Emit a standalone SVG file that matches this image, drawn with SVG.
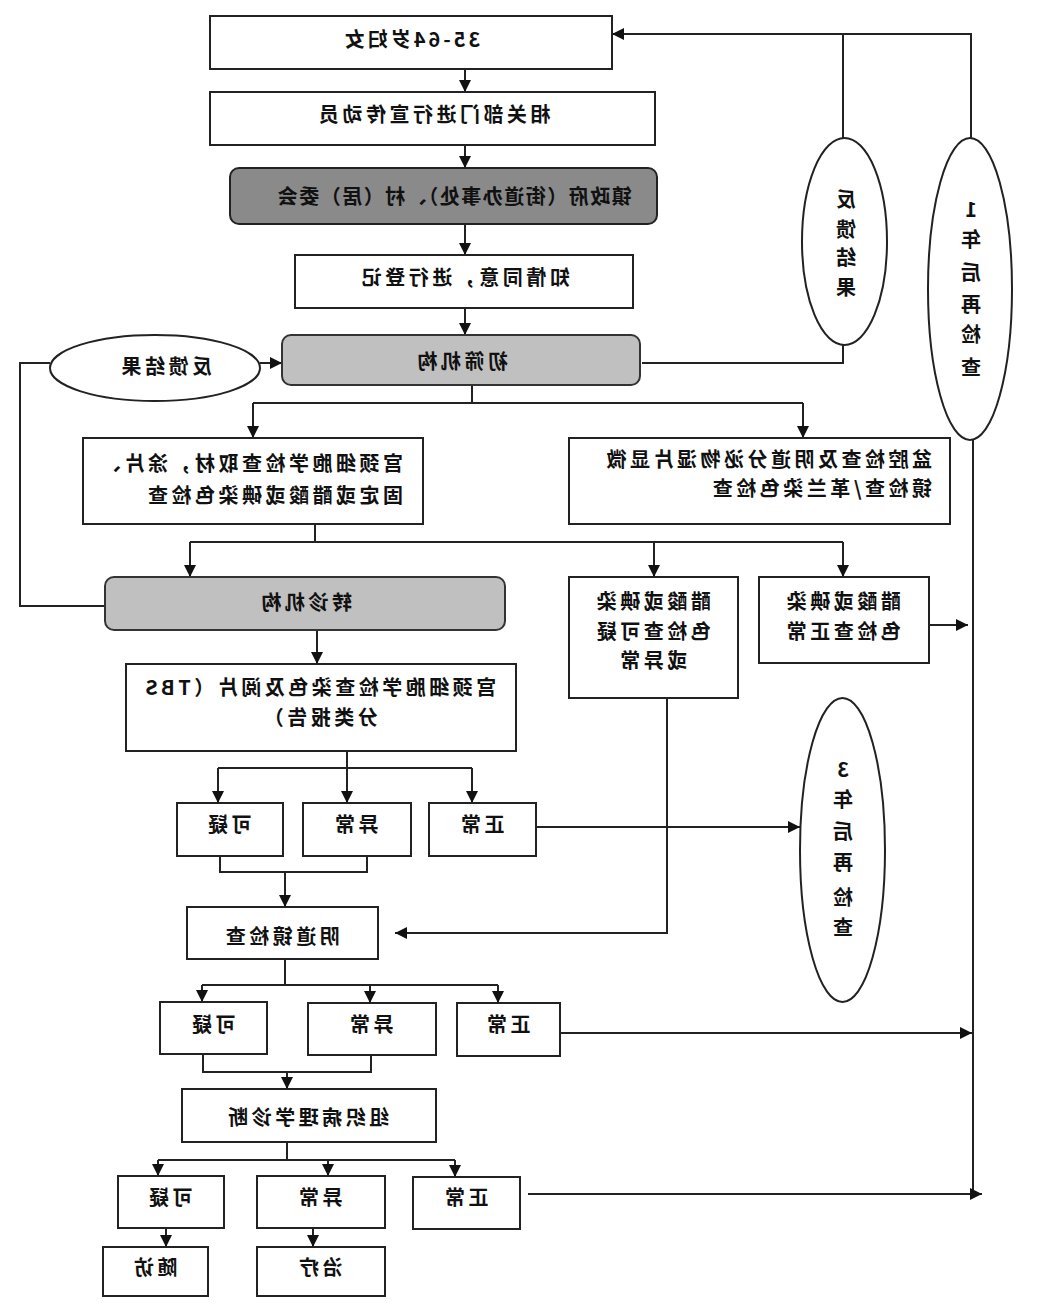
<svg xmlns="http://www.w3.org/2000/svg" width="1039" height="1311" viewBox="0 0 1039 1311">
<style>
.b{fill:#fff;stroke:#222;stroke-width:2}
.g1{fill:#8a8a8a;stroke:#222;stroke-width:2}
.g2{fill:#c0c0c0;stroke:#333;stroke-width:2}
.e{fill:#fff;stroke:#222;stroke-width:2}
.t{font-family:"Noto Sans CJK SC","Noto Sans",sans-serif;font-size:20px;font-weight:700;fill:#111;letter-spacing:3.5px}
.m{text-anchor:middle}
.c{fill:none;stroke:#222;stroke-width:2}
.a{fill:none;stroke:#222;stroke-width:2;marker-end:url(#ah)}
</style>
<defs>
<marker id="ah" viewBox="0 0 10 10" refX="10" refY="5" markerWidth="12" markerHeight="12" markerUnits="userSpaceOnUse" orient="auto"><path d="M0,0 L10,5 L0,10 z" fill="#111"/></marker>
</defs>
<rect width="1039" height="1311" fill="#fff"/>
<g transform="matrix(-1 0 0 1 1039 0)">
<g id="connectors">
<path class="a" d="M574,69 V92"/>
<path class="a" d="M574,145 V168"/>
<path class="a" d="M574,224 V255"/>
<path class="a" d="M574,308 V335"/>
<path class="a" d="M68,138 V34 H427"/>
<path class="c" d="M196,138 V34"/>
<path class="c" d="M397,363 H196 V345"/>
<path class="c" d="M66,440 V1196"/>
<path class="a" d="M110,625 H71"/>
<path class="a" d="M479,1033 H67"/>
<path class="a" d="M511,1194 H57"/>
<path class="a" d="M779,363 H757"/>
<path class="c" d="M989,363 H1019 V606 H934"/>
<path class="c" d="M567,385 V403 M236,403 H786"/>
<path class="a" d="M786,403 V438"/>
<path class="a" d="M236,403 V438"/>
<path class="c" d="M724,524 V542 M196,542 H849"/>
<path class="a" d="M849,542 V577"/>
<path class="a" d="M385,542 V577"/>
<path class="a" d="M196,542 V577"/>
<path class="a" d="M722,630 V664"/>
<path class="c" d="M692,751 V768 M567,768 H821"/>
<path class="a" d="M821,768 V803"/>
<path class="a" d="M692,768 V803"/>
<path class="a" d="M567,768 V803"/>
<path class="a" d="M503,827 H239"/>
<path class="c" d="M819,856 V872 H672 V856"/>
<path class="a" d="M754,872 V907"/>
<path class="a" d="M372,698 V933 H644"/>
<path class="c" d="M754,959 V985 M541,985 H837"/>
<path class="a" d="M837,985 V1002"/>
<path class="a" d="M669,985 V1003"/>
<path class="a" d="M541,985 V1003"/>
<path class="c" d="M836,1054 V1072 H668 V1055"/>
<path class="a" d="M752,1072 V1089"/>
<path class="c" d="M752,1142 V1160 M584,1160 H881"/>
<path class="a" d="M881,1160 V1176"/>
<path class="a" d="M711,1160 V1176"/>
<path class="a" d="M584,1160 V1177"/>
<path class="a" d="M873,1228 V1247"/>
<path class="a" d="M726,1228 V1247"/>
</g>
<g id="n1"><rect class="b" x="427" y="16" width="402" height="53"/><text class="t m" x="628" y="47" style="letter-spacing:3px">35-64岁妇女</text></g>
<g id="n2"><rect class="b" x="384" y="92" width="445" height="53"/><text class="t m" x="606" y="122">相关部门进行宣传动员</text></g>
<g id="n3"><rect class="g1" x="382" y="168" width="427" height="56" rx="9"/><text class="t m" x="585" y="204" style="letter-spacing:1.5px">镇政府（街道办事处）、村（居）委会</text></g>
<g id="n4"><rect class="b" x="406" y="255" width="338" height="53"/><text class="t m" x="575" y="285">知情同意，进行登记</text></g>
<g id="n5"><rect class="g2" x="399" y="335" width="358" height="50" rx="9"/><text class="t m" x="578" y="369">初筛机构</text></g>
<g id="n6"><ellipse class="e" cx="884" cy="368" rx="105" ry="33"/><text class="t m" x="874" y="374">反馈结果</text></g>
<g id="n7"><rect class="b" x="616" y="438" width="340" height="86"/><text class="t" x="636" y="471">宫颈细胞学检查取材，涂片、</text><text class="t" x="636" y="503">固定或醋酸或碘染色检查</text></g>
<g id="n8"><rect class="b" x="89" y="438" width="381" height="86"/><text class="t" x="107" y="467">盆腔检查及阴道分泌物湿片显微</text><text class="t" x="107" y="496">镜检查/革兰染色检查</text></g>
<g id="n9"><rect class="g2" x="534" y="577" width="400" height="53" rx="9"/><text class="t m" x="734" y="610">转诊机构</text></g>
<g id="n10"><rect class="b" x="301" y="577" width="169" height="121"/><text class="t m" x="387" y="609">醋酸或碘染</text><text class="t m" x="387" y="639">色检查可疑</text><text class="t m" x="387" y="668">或异常</text></g>
<g id="n11"><rect class="b" x="110" y="577" width="170" height="86"/><text class="t m" x="197" y="609">醋酸或碘染</text><text class="t m" x="197" y="639">色检查正常</text></g>
<g id="n12"><rect class="b" x="523" y="664" width="390" height="87"/><text class="t m" x="720" y="695">宫颈细胞学检查染色及阅片（TBS</text><text class="t m" x="720" y="725">分类报告）</text></g>
<g id="n13"><rect class="b" x="756" y="803" width="106" height="53"/><text class="t m" x="811" y="832">可疑</text></g>
<g id="n14"><rect class="b" x="628" y="803" width="108" height="53"/><text class="t m" x="684" y="832">异常</text></g>
<g id="n15"><rect class="b" x="503" y="803" width="107" height="53"/><text class="t m" x="558" y="832">正常</text></g>
<g id="n16"><rect class="b" x="661" y="907" width="191" height="52"/><text class="t m" x="758" y="944">阴道镜检查</text></g>
<g id="n17"><rect class="b" x="772" y="1002" width="107" height="52"/><text class="t m" x="827" y="1032">可疑</text></g>
<g id="n18"><rect class="b" x="603" y="1003" width="128" height="52"/><text class="t m" x="669" y="1032">异常</text></g>
<g id="n19"><rect class="b" x="479" y="1003" width="103" height="53"/><text class="t m" x="532" y="1032">正常</text></g>
<g id="n20"><rect class="b" x="603" y="1089" width="254" height="53"/><text class="t m" x="732" y="1125">组织病理学诊断</text></g>
<g id="n21"><rect class="b" x="815" y="1176" width="106" height="52"/><text class="t m" x="870" y="1205">可疑</text></g>
<g id="n22"><rect class="b" x="654" y="1176" width="128" height="52"/><text class="t m" x="720" y="1205">异常</text></g>
<g id="n23"><rect class="b" x="519" y="1177" width="107" height="52"/><text class="t m" x="574" y="1205">正常</text></g>
<g id="n24"><rect class="b" x="831" y="1247" width="105" height="49"/><text class="t m" x="885" y="1275">随访</text></g>
<g id="n25"><rect class="b" x="654" y="1247" width="128" height="49"/><text class="t m" x="720" y="1275">治疗</text></g>
<g id="e1"><ellipse class="e" cx="194.5" cy="241.5" rx="42.5" ry="103.5"/><text class="t m" style="letter-spacing:0"><tspan x="193" y="207">反</tspan><tspan x="193" y="237">馈</tspan><tspan x="193" y="265">结</tspan><tspan x="193" y="295">果</tspan></text></g>
<g id="e2"><ellipse class="e" cx="69" cy="289" rx="42" ry="151"/><text class="t m" style="letter-spacing:0"><tspan x="68" y="217">1</tspan><tspan x="68" y="247">年</tspan><tspan x="68" y="280">后</tspan><tspan x="68" y="312">再</tspan><tspan x="68" y="342">检</tspan><tspan x="68" y="375">查</tspan></text></g>
<g id="e3"><ellipse class="e" cx="196.5" cy="850" rx="42.5" ry="152"/><text class="t m" style="letter-spacing:0"><tspan x="196" y="777">3</tspan><tspan x="196" y="807">年</tspan><tspan x="196" y="839">后</tspan><tspan x="196" y="870">再</tspan><tspan x="196" y="905">检</tspan><tspan x="196" y="935">查</tspan></text></g>
</g>
</svg>
